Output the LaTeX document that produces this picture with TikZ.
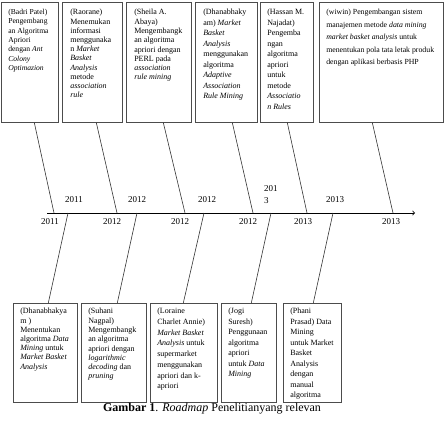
\documentclass[tikz,border=0pt]{standalone}
\usepackage{fontspec}
\setmainfont{Liberation Serif}
\usepackage{tikz}

\newcommand{\paperbox}[5]{\parbox[c][#2pt][t]{#1pt}{\fontsize{#3}{#4}\selectfont\raggedright #5}}

\begin{document}
\begin{tikzpicture}[x=1pt,y=-1pt,
    paper/.style={draw=black!70, line width=0.6pt, anchor=north west, inner xsep=8pt, inner ysep=7pt},
    lead/.style={black!80, line width=0.6pt},
    year/.style={font=\fontsize{9}{12}\selectfont}]
    \tikzstyle{every node}+=[inner sep=0pt]
    \useasboundingbox (0,0) rectangle (445,424);
    \node [paper, inner xsep=7pt] (t1) at (1,2) {\paperbox{43}{106}{7.6pt}{9.3pt}{(Badri Patel)\\ Pengembang\\ an Algoritma\\ Apriori\\ dengan \textit{Ant}\\ \textit{Colony}\\ \textit{Optimazion}}};
    \node [paper] (t2) at (62,2) {\paperbox{44}{106}{8pt}{9.2pt}{(Raorane)\\ Menemukan\\ informasi\\ menggunaka\\ n \textit{Market}\\ \textit{Basket}\\ \textit{Analysis}\\ metode\\ \textit{association}\\ \textit{rule}}};
    \node [paper] (t3) at (126,2) {\paperbox{49}{106}{8pt}{9.3pt}{(Sheila A.\\ Abaya)\\ Mengembangk\\ an algoritma\\ apriori dengan\\ PERL pada\\ \textit{association}\\ \textit{rule mining}}};
    \node [paper] (t4) at (195,2) {\paperbox{46}{106}{8pt}{10.5pt}{(Dhanabhaky\\ am) \textit{Market}\\ \textit{Basket}\\ \textit{Analysis}\\ menggunakan\\ algoritma\\ \textit{Adaptive}\\ \textit{Association}\\ \textit{Rule Mining}}};
    \node [paper, inner xsep=7pt] (t5) at (260,2) {\paperbox{39}{106}{8pt}{10.5pt}{(Hassan M.\\ Najadat)\\ Pengemba\\ ngan\\ algoritma\\ apriori\\ untuk\\ metode\\ \textit{Associatio}\\ \textit{n Rules}}};
    \node [paper, inner xsep=7pt] (t6) at (319,2) {\paperbox{110}{106}{7.8pt}{12.5pt}{(wiwin) Pengembangan sistem\\ manajemen metode \textit{data mining}\\ \textit{market basket analysis} untuk\\ menentukan pola tata letak produk\\ dengan aplikasi berbasis PHP}};
    \node [paper, inner xsep=7pt, inner ysep=5pt] (s1) at (13,303) {\paperbox{50}{89}{8pt}{9.2pt}{(Dhanabhakya\\ m )\\ Menentukan\\ algoritma \textit{Data}\\ \textit{Mining} untuk\\ \textit{Market Basket}\\ \textit{Analysis}}};
    \node [paper, inner xsep=7pt, inner ysep=5pt] (s2) at (81,303) {\paperbox{51}{89}{8pt}{9.3pt}{(Suhani\\ Nagpal)\\ Mengembangk\\ an algoritma\\ apriori dengan\\ \textit{logarithmic}\\ \textit{decoding} dan\\ \textit{pruning}}};
    \node [paper, inner xsep=7pt, inner ysep=5pt] (s3) at (150,303) {\paperbox{53}{89}{8pt}{10.7pt}{(Loraine\\ Charlet Annie)\\ \textit{Market Basket}\\ \textit{Analysis} untuk\\ supermarket\\ menggunakan\\ apriori dan k-\\ apriori}};
    \node [paper, inner xsep=7pt, inner ysep=5pt] (s4) at (221,303) {\paperbox{41}{89}{8pt}{10.5pt}{(Jogi\\ Suresh)\\ Penggunaan\\ algoritma\\ apriori\\ untuk \textit{Data}\\ \textit{Mining}}};
    \node [paper, inner xsep=7pt, inner ysep=5pt] (s5) at (283,303) {\paperbox{44}{89}{8pt}{10.5pt}{(Phani\\ Prasad) Data\\ Mining\\ untuk Market\\ Basket\\ Analysis\\ dengan\\ manual\\ algoritma}};
    \coordinate (start) at (47,213);
    \coordinate (end) at (415,213);
    \draw [black, line width=0.8pt, ->] (start) -- (end);
    \coordinate (a1) at (54,213);
    \coordinate (a2) at (117,213);
    \coordinate (a3) at (185,213);
    \coordinate (a4) at (253,213);
    \coordinate (a5) at (307,213);
    \coordinate (a6) at (393,213);
    \coordinate (b1) at (68,213);
    \coordinate (b2) at (137,213);
    \coordinate (b3) at (204,213);
    \coordinate (b4) at (271,213);
    \coordinate (b5) at (333,213);
    \draw [lead] ([xshift=4.5pt]t1.south) -- (a1);
    \draw [lead] ([xshift=4pt]t2.south) -- (a2);
    \draw [lead] ([xshift=4.5pt]t3.south) -- (a3);
    \draw [lead] ([xshift=6pt]t4.south) -- (a4);
    \draw [lead] ([xshift=0.5pt]t5.south) -- (a5);
    \draw [lead] ([xshift=-9pt]t6.south) -- (a6);
    \draw [lead] (b1) -- ([xshift=3pt]s1.north);
    \draw [lead] (b2) -- ([xshift=3.5pt]s2.north);
    \draw [lead] (b3) -- ([xshift=-0.5pt]s3.north);
    \draw [lead] (b4) -- ([xshift=2.5pt]s4.north);
    \draw [lead] (b5) -- ([xshift=1pt]s5.north);
    \node [year] (ya1) at (50,222) {2011};
    \node [year] (ya2) at (112,222) {2012};
    \node [year] (ya3) at (180,222) {2012};
    \node [year] (ya4) at (248,222) {2012};
    \node [year] (ya5) at (303,222) {2013};
    \node [year] (ya6) at (391,222) {2013};
    \node [year] (yb1) at (74,200) {2011};
    \node [year] (yb2) at (137,200) {2012};
    \node [year] (yb3) at (207,200) {2012};
    \node [year, anchor=base west, align=left] (yb4) at (264,203) {201\\3};
    \node [year] (yb5) at (335,200) {2013};
    \node [font=\fontsize{12}{14}\selectfont] (caption) at (212,409) {\textbf{Gambar 1}. \textit{Roadmap} Penelitianyang relevan};
\end{tikzpicture}
\end{document}
